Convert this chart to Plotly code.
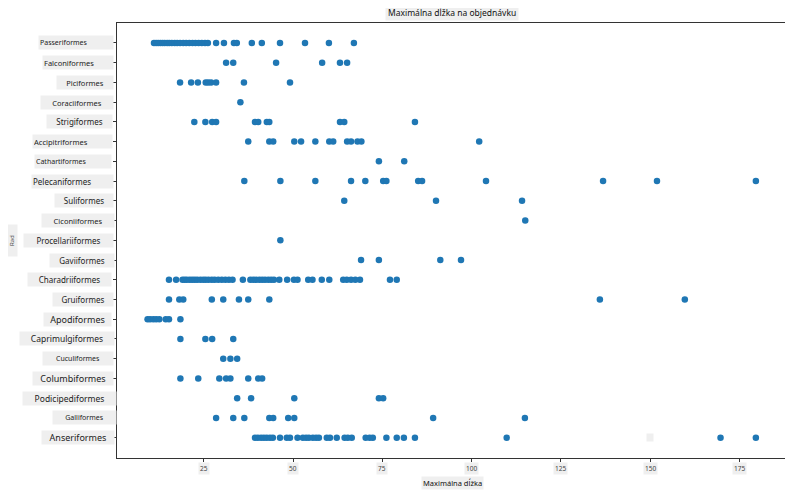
import plotly.graph_objs as go

# orders, top to bottom as in the picture
orders = ['Passeriformes', 'Falconiformes', 'Piciformes', 'Coraciiformes', 'Strigiformes',
          'Accipitriformes', 'Cathartiformes', 'Pelecaniformes', 'Suliformes', 'Ciconiiformes',
          'Procellariiformes', 'Gaviiformes', 'Charadriiformes', 'Gruiformes', 'Apodiformes',
          'Caprimulgiformes', 'Cuculiformes', 'Columbiformes', 'Podicipediformes', 'Galliformes',
          'Anseriformes']

# max length values
passeriformes = [11, 11.6, 12.2, 12.8, 13.4, 14, 14.7, 15.3, 16, 16.8, 17.5, 18.3, 19.2, 20,
                 20.9, 21.8, 22.6, 23.5, 24.4, 25.3, 26.1, 28.4, 30.6, 33.4, 34.2, 38.4, 41.2,
                 46.3, 53.3, 60, 67]
falconiformes = [31.2, 33.2, 45.2, 58.1, 63.1, 65.1]
piciformes = [18.3, 21.4, 23.3, 25.5, 26.2, 27, 28.4, 36.2, 49.1]
coraciiformes = [35.2]
strigiformes = [22.3, 25.4, 27.3, 28.4, 39.3, 40.2, 42.6, 43.3, 63.1, 64.3, 84.1]
accipitriformes = [37.4, 43.3, 44.4, 50.3, 52.2, 56.2, 60.1, 61.2, 65.1, 66.2, 68, 69.1, 102.1]
cathartiformes = [74, 81.1]
pelecaniformes = [36.3, 46.4, 56.2, 66.2, 70.2, 75.2, 76.1, 85, 86.1, 104, 136.8, 151.9, 179.6]
suliformes = [64.3, 90, 114.1]
ciconiiformes = [115]
procellariiformes = [46.4]
gaviiformes = [69, 74, 91.2, 97]
charadriiformes = [15.2, 17.2, 19, 19.6, 20.2, 21, 21.7, 22.4, 23.1, 24, 24.8, 25.5, 26.3, 27.2,
                   28, 29, 30, 31, 32, 33, 35.9, 38, 38.8, 39.6, 40.5, 41.3, 42.1, 43, 43.8,
                   44.6, 46.1, 48.3, 50.2, 51.2, 54.2, 55.4, 58, 60.1, 64, 65, 66.2, 67.4, 68.7,
                   77.1, 79]
gruiformes = [15.2, 18.1, 19.2, 27.2, 30.4, 34.8, 37.4, 43.3, 135.9, 159.7]
apodiformes = [9.2, 9.9, 10.8, 11.6, 12.5, 14.3, 15.2, 18.4]
caprimulgiformes = [18.4, 25.4, 27.3, 33.2]
cuculiformes = [30.4, 32.4, 34.3]
columbiformes = [18.4, 23.4, 29.3, 31.2, 32.4, 37.4, 40.2, 41.3]
podicipediformes = [34.3, 38.2, 50.3, 74, 75.2]
galliformes = [28.4, 33.2, 36.3, 43.3, 44.4, 48.6, 50.3, 89.2, 114.9]
anseriformes = [39.3, 40.1, 41, 41.8, 42.6, 43.5, 44.3, 46.3, 48.2, 49.1, 51.2, 52.7, 53.6, 54.4,
                55.5, 56.4, 57.2, 59.4, 60.3, 62.2, 64.4, 65.3, 66.4, 70.3, 71.4, 72.3, 76.1,
                79, 81, 84.1, 109.8, 169.7, 179.6]

values = [passeriformes, falconiformes, piciformes, coraciiformes, strigiformes,
          accipitriformes, cathartiformes, pelecaniformes, suliformes, ciconiiformes,
          procellariiformes, gaviiformes, charadriiformes, gruiformes, apodiformes,
          caprimulgiformes, cuculiformes, columbiformes, podicipediformes, galliformes,
          anseriformes]

x_ticks = [25, 50, 75, 100, 125, 150, 175]

# label box styling (pixel extents of the grey boxes and font sizes)
box_left = [39, 43, 57, 41, 47, 33, 35, 32, 55, 42, 24, 50, 28, 53, 44, 20, 43, 33, 23, 53, 42]
box_right = [113, 113, 113, 113, 112, 112, 111, 113, 113, 114, 113, 114, 111, 113, 111, 114,
             113, 113, 116, 116, 114]
label_size = [7, 7.5, 7.5, 7.5, 8, 7.5, 7, 8, 8, 7.5, 8, 8, 8, 8, 9, 8.5, 7, 9, 8.5, 7, 9]
label_align = ['left', 'left', 'center', 'center', 'center', 'left', 'left', 'left', 'center',
               'center', 'center', 'center', 'center', 'center', 'center', 'center', 'center',
               'center', 'center', 'center', 'center']

# the page body adds an 8px offset, so the figure is drawn a bit smaller
OFF = 8
W, H = 785, 488
L, R, T, B = 109, 5, 15, 38
pw, ph = W - L - R, H - T - B

FONT = 'Noto Sans'
BOX = '#efefef'
BLUE = '#1f77b4'


def px(xp):
    # screen pixel -> paper x
    return (xp - OFF - L) / pw


def py(yp):
    # screen pixel -> paper y
    return (OFF + T + ph - yp) / ph


data = []
for name, vals in zip(orders, values):
    data.append(go.Scatter(
        x=vals,
        y=[name] * len(vals),
        mode='markers',
        marker=dict(color=BLUE, size=6.5),
        showlegend=False,
        hoverinfo='x+y'
    ))

annotations = []
for i, name in enumerate(orders):
    annotations.append(dict(
        text=name, xref='paper', yref='y',
        x=px((box_left[i] + box_right[i]) / 2), y=name,
        xanchor='center', yanchor='middle',
        width=box_right[i] - box_left[i] - 2, height=11,
        align=label_align[i], bgcolor=BOX, borderpad=1,
        showarrow=False, font=dict(family=FONT, size=label_size[i], color='#222')
    ))

for t in x_ticks:
    annotations.append(dict(
        text=str(t), xref='x', yref='paper', x=t, y=py(468),
        xanchor='center', yanchor='middle', bgcolor=BOX, borderpad=1,
        showarrow=False, font=dict(family=FONT, size=6.5, color='#444')
    ))

# title and axis titles in grey boxes
annotations.append(dict(
    text='Maximálna dĺžka na objednávku', xref='paper', yref='paper',
    x=px(452), y=py(12), xanchor='center', yanchor='middle',
    bgcolor=BOX, borderpad=2, showarrow=False,
    font=dict(family=FONT, size=8.5, color='#111')
))
annotations.append(dict(
    text='Maximálna dĺžka', xref='paper', yref='paper',
    x=px(452), y=py(483), xanchor='center', yanchor='middle',
    bgcolor=BOX, borderpad=1, showarrow=False,
    font=dict(family=FONT, size=7.5, color='#111')
))
annotations.append(dict(
    text='Rad', xref='paper', yref='paper', textangle=-90,
    x=px(12), y=py(241), xanchor='center', yanchor='middle',
    width=29, height=9, bgcolor=BOX, borderpad=1, showarrow=False,
    font=dict(family=FONT, size=6, color='#444')
))
# stray empty box left on the chart
annotations.append(dict(
    text=' ', xref='x', yref='y', x=150, y='Anseriformes',
    width=6, height=7, bgcolor=BOX, borderpad=0, showarrow=False,
    font=dict(family=FONT, size=5)
))

layout = go.Layout(
    width=W, height=H,
    margin=dict(l=L, r=R, t=T, b=B),
    paper_bgcolor='white', plot_bgcolor='white',
    xaxis=dict(range=[0.64, 188.6], tickvals=x_ticks, showticklabels=False,
               ticks='outside', ticklen=3, tickcolor='#333', showgrid=False, zeroline=False,
               showline=True, linecolor='#333', linewidth=1, mirror=True),
    yaxis=dict(type='category', categoryorder='array', categoryarray=orders[::-1],
               range=[-1.03, 21.01], showticklabels=False, ticks='outside', ticklen=3,
               tickcolor='#333', showgrid=False, zeroline=False,
               showline=True, linecolor='#333', linewidth=1, mirror=True),
    annotations=annotations,
    font=dict(family=FONT)
)

fig = go.Figure(data=data, layout=layout)
fig.write_html('out.html')
